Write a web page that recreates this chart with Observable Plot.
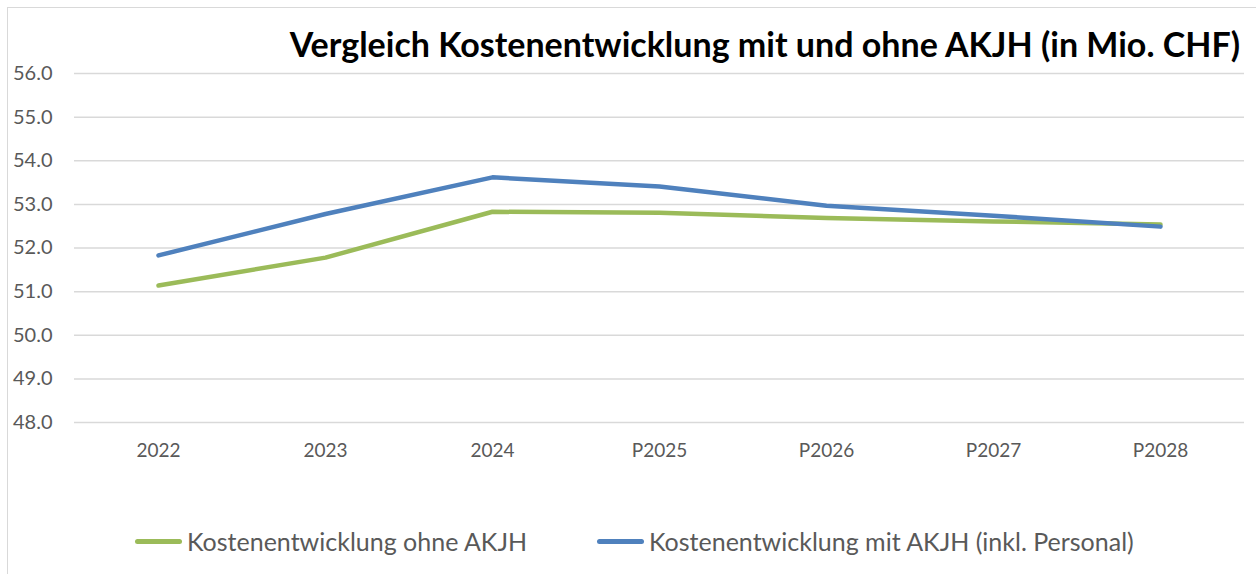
<!DOCTYPE html>
<html>
<head>
<meta charset="utf-8">
<script src="https://cdn.jsdelivr.net/npm/d3@7"></script>
<script src="https://cdn.jsdelivr.net/npm/@observablehq/plot@0.6"></script>
<style>
  html, body { margin: 0; padding: 0; background: #fff; }
  #wrap { position: relative; width: 1256px; height: 574px; overflow: hidden; font-family: Lato, "Open Sans", sans-serif; }
  #frame { position: absolute; left: 7px; top: 7px; width: 1300px; height: 600px; border-left: 1.5px solid #d9d9d9; border-top: 1.5px solid #d9d9d9; box-sizing: border-box; pointer-events: none; }
  #title { position: absolute; right: 16px; top: 24px; font-size: 34px; font-weight: 700; color: #000; line-height: 40px; white-space: nowrap; }
  #legend { position: absolute; top: 526px; left: 0; width: 1256px; height: 30px; }
  .item { position: absolute; top: 0; display: flex; align-items: center; height: 30px; font-size: 25px; color: #595959; white-space: nowrap; }
  .sw { display: inline-block; width: 47px; height: 5px; border-radius: 2.5px; margin-right: 5px; }
  #chart { position: absolute; left: 0; top: 0; }
</style>
</head>
<body>
<div id="wrap">
  <div id="chart"></div>
  <div id="frame"></div>
  <div id="title"></div>
  <div id="legend"></div>
</div>
<script>
const titleText = "Vergleich Kostenentwicklung mit und ohne AKJH (in Mio. CHF)";
const categories = ["2022", "2023", "2024", "P2025", "P2026", "P2027", "P2028"];
const seriesNames = ["Kostenentwicklung ohne AKJH", "Kostenentwicklung mit AKJH (inkl. Personal)"];
const seriesColors = ["#9BBB59", "#4F81BD"];
const ohneAKJH = [51.14, 51.78, 52.83, 52.81, 52.69, 52.61, 52.54];
const mitAKJH = [51.83, 52.78, 53.62, 53.41, 52.97, 52.74, 52.49];
const yTicks = [48, 49, 50, 51, 52, 53, 54, 55, 56];

const rows = [];
[ohneAKJH, mitAKJH].forEach((vals, s) => {
  vals.forEach((v, i) => rows.push({series: seriesNames[s], cat: categories[i], value: v}));
});

const chart = Plot.plot({
  width: 1256,
  height: 574,
  marginLeft: 74,
  marginRight: 12,
  marginTop: 73,
  marginBottom: 152,
  style: {fontFamily: "Lato, 'Open Sans', sans-serif", fontSize: "19px", color: "#595959", background: "transparent"},
  x: {type: "point", domain: categories, padding: 0.5, label: null},
  y: {domain: [48, 56], ticks: yTicks, label: null},
  color: {domain: seriesNames, range: seriesColors},
  marks: [
    Plot.gridY(yTicks, {stroke: "#d9d9d9", strokeOpacity: 1, strokeWidth: 1.5}),
    Plot.axisY(yTicks, {tickSize: 0, tickPadding: 22, tickFormat: d3.format(".1f"), fill: "#595959", fontSize: 20, label: null}),
    Plot.axisX({tickSize: 0, tickPadding: 21, fill: "#595959", fontSize: 19, label: null}),
    Plot.line(rows, {x: "cat", y: "value", z: "series", stroke: "series", strokeWidth: 4.5, strokeLinecap: "round", strokeLinejoin: "round", curve: "linear"})
  ]
});
document.getElementById("chart").appendChild(chart);

document.getElementById("title").textContent = titleText;

const legend = document.getElementById("legend");
const legendLeft = [135, 597];
seriesNames.forEach((name, i) => {
  const item = document.createElement("div");
  item.className = "item";
  item.style.left = legendLeft[i] + "px";
  const sw = document.createElement("span");
  sw.className = "sw";
  sw.style.background = seriesColors[i];
  item.appendChild(sw);
  item.appendChild(document.createTextNode(name));
  legend.appendChild(item);
});
</script>
</body>
</html>
